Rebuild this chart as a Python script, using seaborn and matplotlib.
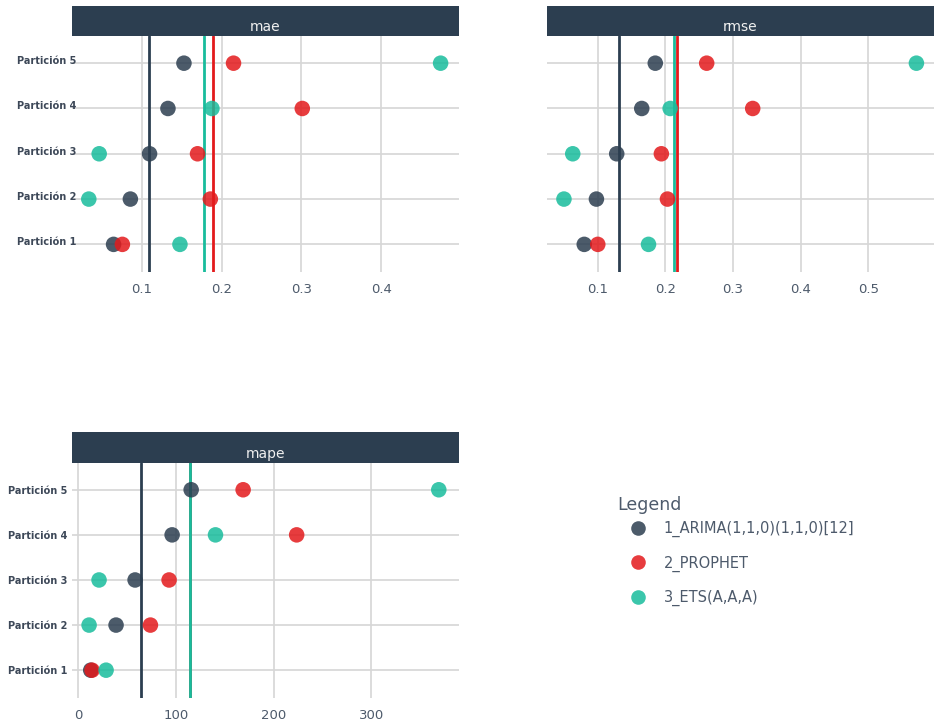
import numpy as np
import pandas as pd
import matplotlib
matplotlib.use("Agg")
import matplotlib.pyplot as plt
from matplotlib.patches import Rectangle
from matplotlib.lines import Line2D
from matplotlib.transforms import ScaledTranslation
import seaborn as sns

# --- data -------------------------------------------------------------------
particiones = ["Partición 1", "Partición 2", "Partición 3", "Partición 4", "Partición 5"]
modelos = ["1_ARIMA(1,1,0)(1,1,0)[12]", "2_PROPHET", "3_ETS(A,A,A)"]

mae_arima   = [0.065, 0.086, 0.110, 0.133, 0.153]
mae_prophet = [0.076, 0.186, 0.170, 0.301, 0.215]
mae_ets     = [0.148, 0.034, 0.047, 0.188, 0.474]

rmse_arima   = [0.080, 0.098, 0.128, 0.165, 0.185]
rmse_prophet = [0.100, 0.203, 0.194, 0.329, 0.261]
rmse_ets     = [0.175, 0.050, 0.063, 0.207, 0.571]

mape_arima   = [12.7, 38.6, 58.1, 96.0, 115.5]
mape_prophet = [14.0, 73.8, 92.9, 223.5, 168.7]
mape_ets     = [28.4, 11.0, 21.2, 140.4, 369.0]

metricas = {
    "mae":  [mae_arima, mae_prophet, mae_ets],
    "rmse": [rmse_arima, rmse_prophet, rmse_ets],
    "mape": [mape_arima, mape_prophet, mape_ets],
}
xticks = {
    "mae":  [0.1, 0.2, 0.3, 0.4],
    "rmse": [0.1, 0.2, 0.3, 0.4, 0.5],
    "mape": [0, 100, 200, 300],
}
xlims = {"mae": (0.013, 0.497), "rmse": (0.0245, 0.597), "mape": (-6.8, 390)}

colores = ["#2c3e50", "#e31a1c", "#18bc9c"]
paleta = dict(zip(modelos, colores))

rows = []
for met, series in metricas.items():
    for modelo, vals in zip(modelos, series):
        for i, (p, v) in enumerate(zip(particiones, vals)):
            rows.append({"metrica": met, "modelo": modelo, "particion": p,
                         "pos": i + 1, "valor": v})
df = pd.DataFrame(rows)

# --- style ------------------------------------------------------------------
sns.set_theme(style="white")
plt.rcParams["font.family"] = ["DejaVu Sans"]
text_col = "#4d5a6b"
grid_col = "#d6d6d6"
strip_col = "#2c3e50"

W, H = 953, 727
fig = plt.figure(figsize=(W / 100, H / 100), dpi=100)

# panel rectangles in pixels: left, right, plot top, plot bottom, strip top
panels = {
    "mae":  (72.0, 459.0, 36.0, 272.0, 6.0),
    "rmse": (546.7, 934.0, 36.0, 272.0, 6.0),
    "mape": (71.7, 459.3, 462.7, 697.7, 432.3),
}

for met, (xl, xr, yt, yb, st) in panels.items():
    ax = fig.add_axes([xl / W, 1 - yb / H, (xr - xl) / W, (yb - yt) / H])
    sub = df[df["metrica"] == met]

    # mean of each model as a vertical reference line
    for modelo in modelos:
        m = sub.loc[sub["modelo"] == modelo, "valor"].mean()
        ax.axvline(m, color=paleta[modelo], lw=2, zorder=2)

    sns.scatterplot(data=sub, x="valor", y="pos", hue="modelo",
                    hue_order=modelos, palette=paleta, s=125, alpha=0.85,
                    edgecolor="none", legend=False, ax=ax, zorder=3)

    ax.set_xlim(*xlims[met])
    ax.set_ylim(0.39, 5.6)
    ax.set_xticks(xticks[met])
    ax.set_xticklabels([f"{t:g}" for t in xticks[met]])
    ax.set_yticks(range(1, 6))
    if met == "rmse":
        ax.set_yticklabels([])
    else:
        ax.set_yticklabels(particiones, fontsize=7, fontweight="bold",
                           color="#3d4858")
    ax.tick_params(axis="x", length=0, pad=8, labelsize=9.5, labelcolor=text_col)
    ax.tick_params(axis="y", length=0, pad=3)
    if met == "mae":
        shift = ScaledTranslation(9 / 100, 3 / 100, fig.dpi_scale_trans)
        for lbl in ax.get_yticklabels():
            lbl.set_transform(lbl.get_transform() + shift)
    ax.set_xlabel("")
    ax.set_ylabel("")
    ax.grid(True, color=grid_col, lw=1.2)
    ax.set_axisbelow(True)
    for s in ax.spines.values():
        s.set_visible(False)

    # facet strip header
    sax = fig.add_axes([xl / W, 1 - yt / H, (xr - xl) / W, (yt - st) / H])
    sax.add_patch(Rectangle((0, 0), 1, 1, color=strip_col, transform=sax.transAxes))
    sax.text(0.5, 0.3, met, ha="center", va="center", color="#f0f0f0",
             fontsize=10, transform=sax.transAxes)
    sax.set_axis_off()

# legend: title and entries
fig.text(617 / W, 1 - 505 / H, "Legend", ha="left", va="center",
         fontsize=12.5, color=text_col)
handles = [Line2D([0], [0], marker="o", linestyle="none", markersize=10.5,
                  markerfacecolor=c, markeredgecolor="none", alpha=0.85)
           for c in colores]
leg = fig.legend(handles, modelos, loc="upper left",
                 bbox_to_anchor=(623 / W, 1 - 521 / H), frameon=False,
                 fontsize=10.5, labelspacing=1.25,
                 handletextpad=0.8, borderaxespad=0, borderpad=0)
for t in leg.get_texts():
    t.set_color(text_col)

fig.savefig("out.png", dpi=100)
